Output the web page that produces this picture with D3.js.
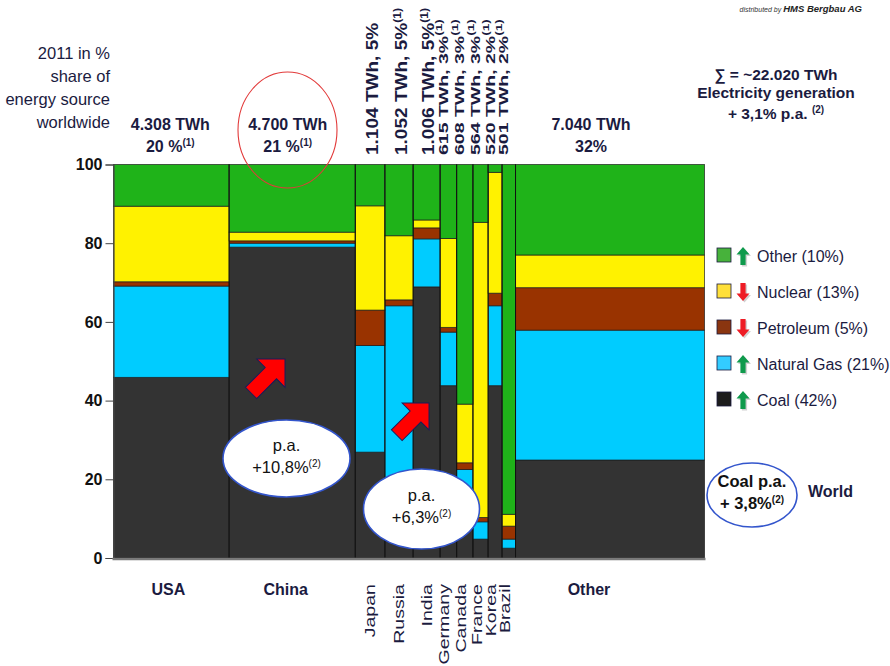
<!DOCTYPE html>
<html>
<head>
<meta charset="utf-8">
<script src="https://cdn.jsdelivr.net/npm/d3@7"></script>
<style>
  body { margin: 0; background: #ffffff; }
  svg { display: block; font-family: "Liberation Sans", Arial, sans-serif; }
</style>
</head>
<body>
<svg id="chart" width="890" height="666"></svg>
<script>
// Electricity generation 2011 by country, share of each energy source (%)
const countries = ["USA", "China", "Japan", "Russia", "India", "Germany", "Canada", "France", "Korea", "Brazil", "Other"];
const generationTWh = [4308, 4700, 1104, 1052, 1006, 615, 608, 564, 520, 501, 7040];
const worldShare = ["20 %", "21 %", "5%", "5%", "5%", "3%", "3%", "3%", "2%", "2%", "32%"];
const shareFootnote = [true, true, false, true, true, true, true, true, true, true, false];

const sources = ["Coal", "Natural Gas", "Petroleum", "Nuclear", "Other"];
const sourceWorldShare = ["42%", "21%", "5%", "13%", "10%"];
const sourceTrend = ["up", "up", "down", "down", "up"];

const coal       = [45.9, 79.0, 26.9, 16.0, 68.9, 43.8, 12.0,  4.8, 43.8,  2.5, 24.9];
const naturalGas = [23.2,  1.0, 27.1, 48.1, 12.2, 13.6, 10.5,  4.4, 20.3,  2.3, 33.0];
const petroleum  = [ 1.1,  0.6,  9.0,  1.5,  2.8,  1.2,  1.7,  1.1,  3.2,  3.3, 10.8];
const nuclear    = [19.2,  2.2, 26.5, 16.3,  2.0, 22.6, 14.9, 75.0, 30.7,  3.0,  8.3];
const other      = [10.6, 17.2, 10.5, 18.1, 14.1, 18.8, 60.9, 14.7,  2.0, 88.9, 23.0];

const yTicks = [0, 20, 40, 60, 80, 100];

const colors = {
  "Coal": "#333333",
  "Natural Gas": "#00ccff",
  "Petroleum": "#993300",
  "Nuclear": "#fff200",
  "Other": "#1fb319"
};
const legendColors = {
  "Coal": "#1c1c1c",
  "Natural Gas": "#33ccff",
  "Petroleum": "#8a3510",
  "Nuclear": "#ffe03a",
  "Other": "#47b23b"
};
const ink = "#1b1b3f";

const svg = d3.select("#chart");
const loc = d3.formatLocale({ decimal: ",", thousands: ".", grouping: [3], currency: ["", ""] });
const fmtTWh = loc.format(",");

// Build rows and column extents (width proportional to generation)
const rows = countries.map((c, i) => ({
  country: c, twh: generationTWh[i], share: worldShare[i], note: shareFootnote[i],
  "Coal": coal[i], "Natural Gas": naturalGas[i], "Petroleum": petroleum[i],
  "Nuclear": nuclear[i], "Other": other[i]
}));
const total = d3.sum(generationTWh);
let acc = 0;
rows.forEach(r => { r.x0 = acc; acc += r.twh; r.x1 = acc; });

const x = d3.scaleLinear().domain([0, total]).range([113.5, 704.5]);
const y = d3.scaleLinear().domain([0, 100]).range([558, 164.5]);

const stacked = d3.stack().keys(sources)(rows);

// Bars
const layers = svg.append("g").selectAll("g")
  .data(stacked).join("g")
  .attr("fill", d => colors[d.key]);

layers.selectAll("rect")
  .data(d => d)
  .join("rect")
  .attr("x", d => x(d.data.x0))
  .attr("width", d => x(d.data.x1) - x(d.data.x0))
  .attr("y", d => y(d[1]))
  .attr("height", d => y(d[0]) - y(d[1]))
  .attr("stroke", "#1a1a1a")
  .attr("stroke-opacity", 0.75)
  .attr("stroke-width", 0.9);

// Column separators
svg.append("g").selectAll("line")
  .data(rows.slice(1)).join("line")
  .attr("x1", d => x(d.x0)).attr("x2", d => x(d.x0))
  .attr("y1", y(100)).attr("y2", y(0))
  .attr("stroke", "#111").attr("stroke-width", 1);

// Y axis
const yAxis = svg.append("g")
  .attr("transform", `translate(${x(0)},0)`)
  .call(d3.axisLeft(y).tickValues(yTicks).tickSize(8).tickPadding(3).tickFormat(d3.format("d")));
yAxis.select(".domain").attr("stroke", "#444").attr("stroke-width", 1.2);
yAxis.selectAll(".tick line").attr("stroke", "#444");
yAxis.selectAll(".tick text")
  .attr("font-size", 16).attr("font-weight", "bold").attr("fill", "#111")
  .attr("font-family", "\"Liberation Sans\", Arial, sans-serif");

// Baseline
svg.append("line")
  .attr("x1", x(0) - 1).attr("x2", x(total) + 1)
  .attr("y1", y(0) + 1).attr("y2", y(0) + 1)
  .attr("stroke", "#7a7a7a").attr("stroke-width", 2.5);

// Y axis caption
const caption = ["2011 in %", "share of", "energy source", "worldwide"];
svg.append("g").selectAll("text")
  .data(caption).join("text")
  .attr("x", 110).attr("y", (d, i) => 59 + i * 23)
  .attr("text-anchor", "end")
  .attr("font-size", 16.5).attr("fill", ink)
  .text(d => d);

const wide = r => r.twh > 4000;
const mid = r => (x(r.x0) + x(r.x1)) / 2;
// Wide-column labels sit a little left of centre; the rest-of-world block more so
const labelX = r => mid(r) + (r.country === "Other" ? -19 : r.country === "China" ? -4.5 : -1);

// Header labels for wide columns
const wideRows = rows.filter(wide);
const head = svg.append("g").attr("font-weight", "bold").attr("fill", ink).attr("text-anchor", "middle");
head.selectAll("text.twh").data(wideRows).join("text").attr("class", "twh")
  .attr("x", labelX).attr("y", 130).attr("font-size", 16)
  .text(d => `${fmtTWh(d.twh)} TWh`);
head.selectAll("text.share").data(wideRows).join("text").attr("class", "share")
  .attr("x", labelX).attr("y", 152).attr("font-size", 16)
  .each(function (d) {
    const t = d3.select(this);
    t.append("tspan").text(d.share);
    if (d.note) t.append("tspan").attr("font-size", 10).attr("dy", -6).text("(1)");
  });

// Header labels for narrow columns (rotated)
const narrowRows = rows.filter(r => !wide(r));
svg.append("g").attr("fill", ink).attr("font-weight", "bold").selectAll("text")
  .data(narrowRows).join("text")
  .attr("transform", d => {
    const big = d.twh > 1000;
    const px = big ? mid(d) + 7.5 : mid(d) - 0.5;
    return `translate(${px},155) rotate(-90) scale(${big ? 1.12 : 1.5},1)`;
  })
  .attr("font-size", d => d.twh > 1000 ? 17 : 13)
  .each(function (d) {
    const t = d3.select(this);
    t.append("tspan").text(`${fmtTWh(d.twh)} TWh, ${d.share}`);
    if (d.note) t.append("tspan").attr("font-size", d.twh > 1000 ? 11 : 9).attr("dy", -6).text("(1)");
  });

// Country labels on the category axis
svg.append("g").attr("font-weight", "bold").attr("fill", ink).attr("text-anchor", "middle")
  .selectAll("text").data(wideRows).join("text")
  .attr("x", d => labelX(d) - 2).attr("y", 595).attr("font-size", 16)
  .text(d => d.country);

svg.append("g").attr("fill", ink).attr("text-anchor", "end")
  .selectAll("text").data(narrowRows).join("text")
  .attr("transform", d => {
    const px = d.twh > 1000 ? mid(d) + 5 : mid(d) + 1;
    return `translate(${px},584) rotate(-90) scale(1.4,1)`;
  })
  .attr("font-size", 14)
  .text(d => d.country);

// World total
const tot = svg.append("g").attr("font-weight", "bold").attr("fill", ink).attr("text-anchor", "middle");
tot.append("text").attr("x", 776).attr("y", 80).attr("font-size", 15.5).text(`∑ = ~${fmtTWh(22020)} TWh`);
tot.append("text").attr("x", 776).attr("y", 98).attr("font-size", 15.5).text("Electricity generation");
const growth = tot.append("text").attr("x", 776).attr("y", 119).attr("font-size", 15.5);
growth.append("tspan").text("+ 3,1% p.a. ");
growth.append("tspan").attr("font-size", 10).attr("dy", -6).text("(2)");

// Source credit
const credit = svg.append("text").attr("x", 862).attr("y", 12).attr("text-anchor", "end")
  .attr("font-style", "italic").attr("fill", "#333");
credit.append("tspan").attr("font-size", 7).text("distributed by ");
credit.append("tspan").attr("font-size", 9.5).attr("font-weight", "bold").attr("fill", "#222").text("HMS Bergbau AG");

// Legend (top-to-bottom order is the reverse of the stack)
const legendData = sources.map((s, i) => ({ name: s, share: sourceWorldShare[i], trend: sourceTrend[i] })).reverse();
const lg = svg.append("g").attr("transform", "translate(717,248)");
const item = lg.selectAll("g").data(legendData).join("g")
  .attr("transform", (d, i) => `translate(0,${i * 36})`);
item.append("rect").attr("width", 14).attr("height", 14)
  .attr("fill", d => legendColors[d.name]).attr("stroke", "#1b1b3f").attr("stroke-width", 0.8);
const upArrow = "M0,-9 L6.5,-1.5 L2.6,-1.5 L2.6,9 L-2.6,9 L-2.6,-1.5 L-6.5,-1.5 Z";
const downArrow = "M0,9 L6.5,1.5 L2.6,1.5 L2.6,-9 L-2.6,-9 L-2.6,1.5 L-6.5,1.5 Z";
item.append("path")
  .attr("transform", "translate(27.5,9.5)")
  .attr("d", d => d.trend === "up" ? upArrow : downArrow)
  .attr("fill", "#999").attr("opacity", 0.45);
item.append("path")
  .attr("transform", "translate(26,8)")
  .attr("d", d => d.trend === "up" ? upArrow : downArrow)
  .attr("fill", d => d.trend === "up" ? "#0f9a4c" : "#ee1c25");
item.append("text").attr("x", 40).attr("y", 13.5).attr("font-size", 16).attr("fill", ink)
  .text(d => `${d.name} (${d.share})`);

// Growth markers
function bigArrow(tipX, tipY, s) {
  const pts = [[0, 0], [-20, -20], [-20, -8], [-48, -8], [-48, 8], [-20, 8], [-20, 20]];
  svg.append("polygon")
    .attr("points", pts.map(p => p.join(",")).join(" "))
    .attr("transform", `translate(${tipX},${tipY}) rotate(-45) scale(${s})`)
    .attr("fill", "#ff0000").attr("stroke", "#1b1b5a").attr("stroke-width", 1);
}
bigArrow(285, 359, 1.0);
bigArrow(429, 403, 0.95);

function bubble(cx, cy, rx, ry, lines, bold) {
  const g = svg.append("g");
  g.append("ellipse").attr("cx", cx).attr("cy", cy).attr("rx", rx).attr("ry", ry)
    .attr("fill", "#ffffff").attr("stroke", "#3355cc").attr("stroke-width", 1.6);
  lines.forEach((ln, i) => {
    const t = g.append("text").attr("x", cx).attr("y", cy - 4 + i * 22 - (lines.length - 1) * 4)
      .attr("text-anchor", "middle").attr("font-size", 16.5).attr("fill", "#111")
      .attr("font-weight", bold ? "bold" : "normal");
    t.append("tspan").text(ln[0]);
    if (ln[1]) t.append("tspan").attr("font-size", 10).attr("dy", -6).text(ln[1]);
  });
}
bubble(286.5, 458.5, 63.5, 38.5, [["p.a."], ["+10,8%", "(2)"]], false);
bubble(421.5, 509, 58, 40, [["p.a."], ["+6,3%", "(2)"]], false);
bubble(752, 495, 45, 32, [["Coal p.a."], ["+ 3,8%", "(2)"]], true);

svg.append("text").attr("x", 808).attr("y", 497).attr("font-size", 16).attr("font-weight", "bold")
  .attr("fill", ink).text("World");

// Highlight ring around China total
svg.append("ellipse").attr("cx", 287.5).attr("cy", 130).attr("rx", 49.5).attr("ry", 58)
  .attr("fill", "none").attr("stroke", "#e23a3a").attr("stroke-width", 1.1);
</script>
</body>
</html>
